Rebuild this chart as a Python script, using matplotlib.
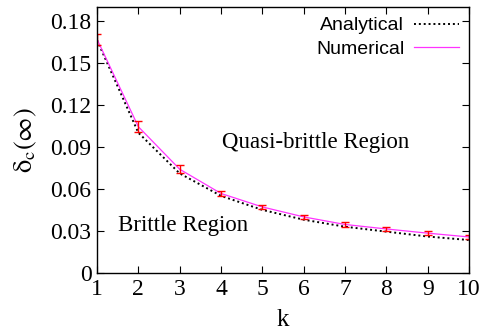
import numpy as np
import matplotlib
matplotlib.use('Agg')
import matplotlib.pyplot as plt

plt.rcParams['mathtext.fontset'] = 'stix'

# values
k = [1, 2, 3, 4, 5, 6, 7, 8, 9, 10]
analytical = [0.166, 0.100, 0.071, 0.055, 0.045, 0.038, 0.033, 0.0295, 0.026, 0.0235]
numerical = [0.1667, 0.1043, 0.0740, 0.0567, 0.0471, 0.0400, 0.0346, 0.0314, 0.0284, 0.0257]
num_err = [0.004, 0.004, 0.003, 0.002, 0.0015, 0.0015, 0.0015, 0.0015, 0.0015, 0.0015]
yticks = [0, 0.03, 0.06, 0.09, 0.12, 0.15, 0.18]
ytick_labels = ['0', '0.03', '0.06', '0.09', '0.12', '0.15', '0.18']

serif = 'Liberation Serif'
sans = 'Liberation Sans'

fig = plt.figure(figsize=(4.86, 3.32), dpi=100)
ax = fig.add_axes([97 / 486, 1 - 273 / 332, (469 - 97) / 486, (273 - 6.5) / 332])

ax.plot(k, analytical, color='black', linestyle=(0, (1, 1.5)), linewidth=1.4,
        label='Analytical')
ax.plot(k, numerical, color='#ff33ff', linestyle='-', linewidth=0.9,
        label='Numerical')
ax.errorbar(k, numerical, yerr=num_err, fmt='none', ecolor='red',
            elinewidth=1.0, capsize=3, capthick=1.0)

ax.set_xlim(1, 10)
ax.set_ylim(0, 0.19)
ax.set_xticks(k)
ax.set_xticklabels([str(v) for v in k], fontfamily=serif, fontsize=17)
ax.set_yticks(yticks)
ax.set_yticklabels(ytick_labels, fontfamily=serif, fontsize=17)
ax.tick_params(direction='in', top=True, right=True, length=5, width=0.8, pad=4)
for s in ax.spines.values():
    s.set_linewidth(1.0)

ax.set_xlabel('k', fontfamily=serif, fontsize=18, labelpad=7)
ax.set_ylabel(r'$\mathrm{\delta_c(\infty)}$', fontsize=19)
ax.yaxis.set_label_coords(-0.157, 0.5)

ax.text(6.30, 0.093, 'Quasi-brittle Region', fontfamily=serif, fontsize=16.5,
        ha='center', va='center')
ax.text(3.08, 0.034, 'Brittle Region', fontfamily=serif, fontsize=16.5,
        ha='center', va='center')

# legend: text on the left, sample line on the right, no frame
leg = ax.legend(loc='upper right', frameon=False, prop={'family': sans, 'size': 14},
                markerfirst=False, handlelength=2.3, handletextpad=0.5,
                borderaxespad=0.38, borderpad=0.15, labelspacing=0.3)

fig.savefig('out.png', dpi=100)
